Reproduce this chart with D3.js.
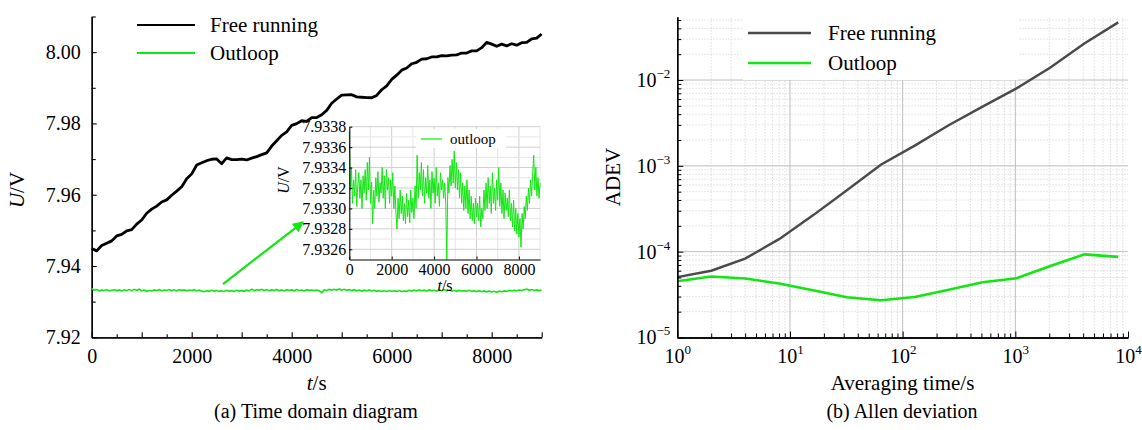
<!DOCTYPE html>
<html><head><meta charset="utf-8">
<script src="https://cdn.jsdelivr.net/npm/d3@7"></script>
<style>
body{margin:0;background:#fff;}
svg{display:block;font-family:"Liberation Serif","Tinos","Times New Roman","DejaVu Serif",serif;}
svg text{font-family:"Liberation Serif","Tinos","Times New Roman","DejaVu Serif",serif;}
</style></head>
<body><svg id="c" width="1142" height="430"></svg>
<script>
// ---------- data: time domain ----------
const timeFree = d3.range(0, 9001, 100); // s, 100 s sampling of the black trace
const freeRunning = [
7.94490,7.94425,7.94575,7.94640,7.94705,7.94845,7.94885,7.94985,7.95020,7.95175,
7.95290,7.95480,7.95595,7.95680,7.95795,7.95855,7.95985,7.96100,7.96225,7.96445,
7.96585,7.96835,7.96895,7.96955,7.96995,7.97005,7.96870,7.97035,7.96985,7.96985,
7.97000,7.96975,7.97025,7.97070,7.97125,7.97175,7.97365,7.97515,7.97665,7.97765,
7.97945,7.97995,7.98075,7.98055,7.98165,7.98165,7.98245,7.98365,7.98565,7.98685,
7.98795,7.98800,7.98805,7.98745,7.98735,7.98725,7.98720,7.98785,7.98945,7.99055,
7.99235,7.99355,7.99495,7.99555,7.99675,7.99715,7.99805,7.99815,7.99865,7.99865,
7.99905,7.99895,7.99915,7.99925,7.99975,7.99975,8.00035,8.00035,8.00125,8.00275,
8.00225,8.00165,8.00225,8.00175,8.00235,8.00195,8.00265,8.00275,8.00375,8.00395,
8.00510];
const timeOut = d3.range(0, 9001, 50); // s, 50 s sampling of the green trace
const outloop = [
7.93375,7.93318,7.93340,7.93305,7.93328,7.93312,7.93338,7.93302,7.93322,7.93335,
7.93310,7.93328,7.93300,7.93332,7.93315,7.93338,7.93308,7.93345,7.93318,7.93350,
7.93305,7.93326,7.93285,7.93318,7.93300,7.93330,7.93312,7.93336,7.93306,7.93325,
7.93315,7.93340,7.93310,7.93332,7.93300,7.93338,7.93318,7.93330,7.93305,7.93328,
7.93312,7.93335,7.93300,7.93322,7.93295,7.93280,7.93310,7.93290,7.93318,7.93295,
7.93312,7.93288,7.93305,7.93285,7.93315,7.93292,7.93308,7.93286,7.93318,7.93296,
7.93310,7.93290,7.93322,7.93300,7.93352,7.93310,7.93335,7.93318,7.93345,7.93312,
7.93338,7.93305,7.93330,7.93315,7.93342,7.93310,7.93328,7.93300,7.93336,7.93315,
7.93330,7.93305,7.93340,7.93312,7.93325,7.93302,7.93335,7.93318,7.93328,7.93310,
7.93325,7.93305,7.93250,7.93330,7.93315,7.93342,7.93322,7.93348,7.93325,7.93356,
7.93320,7.93345,7.93318,7.93338,7.93310,7.93335,7.93305,7.93325,7.93298,7.93322,
7.93300,7.93328,7.93295,7.93318,7.93290,7.93312,7.93288,7.93305,7.93285,7.93310,
7.93292,7.93305,7.93288,7.93312,7.93282,7.93300,7.93290,7.93318,7.93298,7.93325,
7.93300,7.93330,7.93305,7.93322,7.93295,7.93335,7.93305,7.93320,7.93298,7.93328,
7.93308,7.93340,7.93302,7.93325,7.93295,7.93318,7.93290,7.93315,7.93298,7.93310,
7.93292,7.93318,7.93288,7.93305,7.93282,7.93308,7.93278,7.93300,7.93275,7.93295,
7.93272,7.93290,7.93262,7.93295,7.93280,7.93302,7.93290,7.93312,7.93298,7.93320,
7.93305,7.93328,7.93312,7.93335,7.93352,7.93318,7.93340,7.93312,7.93330,7.93310,
7.93325];
const yTicksMain = [7.92,7.94,7.96,7.98,8.00];
const yMinorMain = [7.93,7.95,7.97,7.99,8.01];
const xLabelTicks = [0,2000,4000,6000,8000];
const insetYTicks = [7.9326,7.9328,7.9330,7.9332,7.9334,7.9336,7.9338];
const arrowFrom = [2626, 7.93495], arrowTo = [4226, 7.95234];

// ---------- data: Allan deviation ----------
const tau = [1,2,4,8,16,32,64,128,256,512,1024,2048,4096,8192];
const adevFree = [5.05e-5,6.0e-5,8.3e-5,1.4e-4,2.65e-4,5.2e-4,1.03e-3,1.72e-3,2.97e-3,4.9e-3,8.0e-3,1.4e-2,2.67e-2,4.7e-2];
const adevOut = [4.53e-5,5.14e-5,4.87e-5,4.26e-5,3.55e-5,2.95e-5,2.72e-5,2.97e-5,3.6e-5,4.41e-5,4.9e-5,6.8e-5,9.3e-5,8.7e-5];
const xDecades = [1,10,100,1000,10000];
const yDecades = [1e-5,1e-4,1e-3,1e-2];

const FONT = '"Liberation Serif","Tinos","Times New Roman","DejaVu Serif",serif';
const svg = d3.select("#c");
const GREEN = "#12e612";

// ================= LEFT CHART =================
const xL = d3.scaleLinear([0,9000],[91.7,541.7]);
const yL = d3.scaleLinear([7.92,8.01],[337.3,16.5]);
const gL = svg.append("g");

gL.append("g").attr("transform",`translate(${xL.range()[0]},0)`)
  .call(d3.axisLeft(yL).tickValues(yTicksMain).tickFormat(d3.format(".2f")).tickSize(-5).tickSizeOuter(0).tickPadding(11));
gL.append("g").attr("transform",`translate(${xL.range()[0]},0)`)
  .call(d3.axisLeft(yL).tickValues(yMinorMain).tickFormat("").tickSize(-4).tickSizeOuter(0));
gL.append("g").attr("transform",`translate(0,${yL.range()[0]})`)
  .call(d3.axisBottom(xL).tickValues(d3.range(0,9001,1000)).tickFormat(d=>xLabelTicks.includes(d)?String(d):"").tickSize(-5).tickSizeOuter(0).tickPadding(12));
gL.append("g").attr("transform",`translate(0,${yL.range()[0]})`)
  .call(d3.axisBottom(xL).tickValues(d3.range(500,9000,1000)).tickFormat("").tickSize(-3).tickSizeOuter(0));
gL.selectAll("g").attr("font-family",FONT);
gL.selectAll(".domain").attr("stroke","#000").attr("stroke-width",1.3);
gL.selectAll(".tick line").attr("stroke","#000").attr("stroke-width",1.1);
gL.selectAll(".tick text").attr("font-family",FONT).attr("font-size",20).attr("fill","#000");

gL.append("path").datum(timeFree.map((t,i)=>[t,freeRunning[i]]))
  .attr("fill","none").attr("stroke","#000").attr("stroke-width",2.8).attr("stroke-linejoin","round")
  .attr("d",d3.line().x(d=>xL(d[0])).y(d=>yL(d[1])));
gL.append("path").datum(timeOut.map((t,i)=>[t,outloop[i]]))
  .attr("fill","none").attr("stroke",GREEN).attr("stroke-width",1.6)
  .attr("d",d3.line().x(d=>xL(d[0])).y(d=>yL(d[1])));

const defs = svg.append("defs");
defs.append("marker").attr("id","ah").attr("viewBox","0 0 10 10").attr("refX",9).attr("refY",5)
  .attr("markerWidth",5).attr("markerHeight",5).attr("orient","auto-start-reverse")
  .append("path").attr("d","M0,0L10,5L0,10z").attr("fill",GREEN);
gL.append("line").attr("x1",xL(arrowFrom[0])).attr("y1",yL(arrowFrom[1]))
  .attr("x2",xL(arrowTo[0])).attr("y2",yL(arrowTo[1]))
  .attr("stroke",GREEN).attr("stroke-width",2.2).attr("marker-end","url(#ah)");

[["Free running","#000",25],["Outloop",GREEN,53]].forEach(([name,col,y])=>{
  gL.append("line").attr("x1",137).attr("x2",195).attr("y1",y).attr("y2",y).attr("stroke",col).attr("stroke-width",2);
  gL.append("text").attr("x",210).attr("y",y+7).attr("font-size",21).text(name);
});
gL.append("text").attr("x",316.7).attr("y",390).attr("text-anchor","middle").attr("font-size",21)
  .html('<tspan font-style="italic">t</tspan>/s');
gL.append("text").attr("transform","translate(24,190) rotate(-90)").attr("text-anchor","middle").attr("font-size",21)
  .html('<tspan font-style="italic">U</tspan>/V');
gL.append("text").attr("x",316).attr("y",418).attr("text-anchor","middle").attr("font-size",20).text("(a) Time domain diagram");

// ================= INSET =================
const xI = d3.scaleLinear([0,9000],[349.3,540.1]);
const yI = d3.scaleLinear([7.9325,7.9338],[259.5,126.7]);
const gI = svg.append("g");
gI.append("rect").attr("x",xI.range()[0]).attr("y",yI.range()[1]).attr("width",xI.range()[1]-xI.range()[0]).attr("height",yI.range()[0]-yI.range()[1]).attr("fill","#fff");
d3.range(1000,9001,1000).forEach(t=>{
  gI.append("line").attr("x1",xI(t)).attr("x2",xI(t)).attr("y1",yI.range()[0]).attr("y2",yI.range()[1])
    .attr("stroke", t%2000===0 ? "#cfcfcf" : "#e6e6e6").attr("stroke-width",1);
});
d3.range(7.9326,7.93381,0.0001).forEach((v,i)=>{
  gI.append("line").attr("x1",xI.range()[0]).attr("x2",xI.range()[1]).attr("y1",yI(v)).attr("y2",yI(v))
    .attr("stroke", i%2===0 ? "#cfcfcf" : "#e6e6e6").attr("stroke-width",1);
});
gI.append("rect").attr("x",416).attr("y",129).attr("width",90).attr("height",19).attr("fill","#fff");
gI.append("line").attr("x1",421).attr("x2",442).attr("y1",139).attr("y2",139).attr("stroke",GREEN).attr("stroke-width",1.2);
gI.append("text").attr("x",450).attr("y",144).attr("font-size",15).text("outloop");
gI.append("path").datum(timeOut.map((t,i)=>[t,outloop[i]]))
  .attr("fill","none").attr("stroke",GREEN).attr("stroke-width",1)
  .attr("d",d3.line().x(d=>xI(d[0])).y(d=>yI(Math.max(d[1],7.9325))));
gI.append("g").attr("transform",`translate(${xI.range()[0]},0)`)
  .call(d3.axisLeft(yI).tickValues(insetYTicks).tickFormat(d3.format(".4f")).tickSize(-3).tickSizeOuter(0).tickPadding(3));
gI.append("g").attr("transform",`translate(0,${yI.range()[0]})`)
  .call(d3.axisBottom(xI).tickValues(xLabelTicks).tickFormat(d3.format("d")).tickSize(-3).tickSizeOuter(0).tickPadding(4));
gI.selectAll(".domain").attr("stroke","#000").attr("stroke-width",1.1);
gI.selectAll(".tick line").attr("stroke","#000");
gI.selectAll(".tick text").attr("font-family",FONT).attr("font-size",16).attr("fill","#000");
gI.append("text").attr("x",445).attr("y",291).attr("text-anchor","middle").attr("font-size",16)
  .html('<tspan font-style="italic">t</tspan>/s');
gI.append("text").attr("transform","translate(289,180) rotate(-90)").attr("text-anchor","middle").attr("font-size",16)
  .html('<tspan font-style="italic">U</tspan>/V');

// ================= RIGHT CHART =================
const xR = d3.scaleLog([1,1e4],[677.3,1128]);
const yR = d3.scaleLog([1e-5,Math.pow(10,-1.262)],[337.5,16.7]);
const gR = svg.append("g");
const minorX = [], minorY = [];
[1,10,100,1000].forEach(b=>{for(let k=2;k<=9;k++) minorX.push(b*k);});
[1e-5,1e-4,1e-3,1e-2].forEach(b=>{for(let k=2;k<=9;k++){const v=b*k; if(v<=yR.domain()[1]) minorY.push(v);}});
minorX.forEach(v=>gR.append("line").attr("x1",xR(v)).attr("x2",xR(v)).attr("y1",yR.range()[0]).attr("y2",yR.range()[1])
  .attr("stroke","#d4d4d4").attr("stroke-dasharray","1.5,1.5").attr("stroke-width",0.8));
minorY.forEach(v=>gR.append("line").attr("x1",xR.range()[0]).attr("x2",xR.range()[1]).attr("y1",yR(v)).attr("y2",yR(v))
  .attr("stroke","#d4d4d4").attr("stroke-dasharray","1.5,1.5").attr("stroke-width",0.8));
xDecades.slice(1,4).forEach(v=>gR.append("line").attr("x1",xR(v)).attr("x2",xR(v)).attr("y1",yR.range()[0]).attr("y2",yR.range()[1])
  .attr("stroke","#bdbdbd").attr("stroke-width",1));
yDecades.slice(1).forEach(v=>gR.append("line").attr("x1",xR.range()[0]).attr("x2",xR.range()[1]).attr("y1",yR(v)).attr("y2",yR(v))
  .attr("stroke","#bdbdbd").attr("stroke-width",1));
gR.append("rect").attr("x",743).attr("y",14).attr("width",275).attr("height",66).attr("fill","#fff");
const lineR = d3.line().x(d=>xR(d[0])).y(d=>yR(d[1]));
gR.append("path").datum(tau.map((t,i)=>[t,adevFree[i]])).attr("fill","none").attr("stroke","#4a4a4a").attr("stroke-width",2.4).attr("d",lineR);
gR.append("path").datum(tau.map((t,i)=>[t,adevOut[i]])).attr("fill","none").attr("stroke",GREEN).attr("stroke-width",2.6).attr("d",lineR);
const supMap = {"-5":"\u22125","-4":"\u22124","-3":"\u22123","-2":"\u22122"};
const yAx = gR.append("g").attr("transform",`translate(${xR.range()[0]},0)`)
  .call(d3.axisLeft(yR).tickValues(yDecades).tickSize(-6).tickSizeOuter(0).tickPadding(7));
gR.append("g").attr("transform",`translate(${xR.range()[0]},0)`)
  .call(d3.axisLeft(yR).tickValues(minorY).tickFormat("").tickSize(-4).tickSizeOuter(0));
const xAx = gR.append("g").attr("transform",`translate(0,${yR.range()[0]})`)
  .call(d3.axisBottom(xR).tickValues(xDecades).tickSize(-6).tickSizeOuter(0).tickPadding(11));
gR.append("g").attr("transform",`translate(0,${yR.range()[0]})`)
  .call(d3.axisBottom(xR).tickValues(minorX).tickFormat("").tickSize(-4).tickSizeOuter(0));
gR.selectAll(".domain").attr("stroke","#000").attr("stroke-width",1.3);
gR.selectAll(".tick line").attr("stroke","#000").attr("stroke-width",1);
yAx.selectAll(".tick text").text(null).attr("font-family",FONT).attr("font-size",20).attr("fill","#000")
  .each(function(d){const s=d3.select(this);const e=Math.round(Math.log10(d));
    s.append("tspan").text("10"); s.append("tspan").attr("dy",-9).attr("font-size",13).text(supMap[e]||String(e));});
xAx.selectAll(".tick text").text(null).attr("font-family",FONT).attr("font-size",20).attr("fill","#000")
  .each(function(d){const s=d3.select(this);const e=Math.round(Math.log10(d));
    s.append("tspan").text("10"); s.append("tspan").attr("dy",-9).attr("font-size",13).text(String(e));});
[["Free running","#4a4a4a",33],["Outloop",GREEN,63]].forEach(([name,col,y])=>{
  gR.append("line").attr("x1",748).attr("x2",811).attr("y1",y).attr("y2",y).attr("stroke",col).attr("stroke-width",2.6);
  gR.append("text").attr("x",828).attr("y",y+7).attr("font-size",21).text(name);
});
gR.append("text").attr("x",902.5).attr("y",390).attr("text-anchor","middle").attr("font-size",21).text("Averaging time/s");
gR.append("text").attr("transform","translate(620,177) rotate(-90)").attr("text-anchor","middle").attr("font-size",21).text("ADEV");
gR.append("text").attr("x",902).attr("y",418).attr("text-anchor","middle").attr("font-size",20).text("(b) Allen deviation");
</script></body></html>
